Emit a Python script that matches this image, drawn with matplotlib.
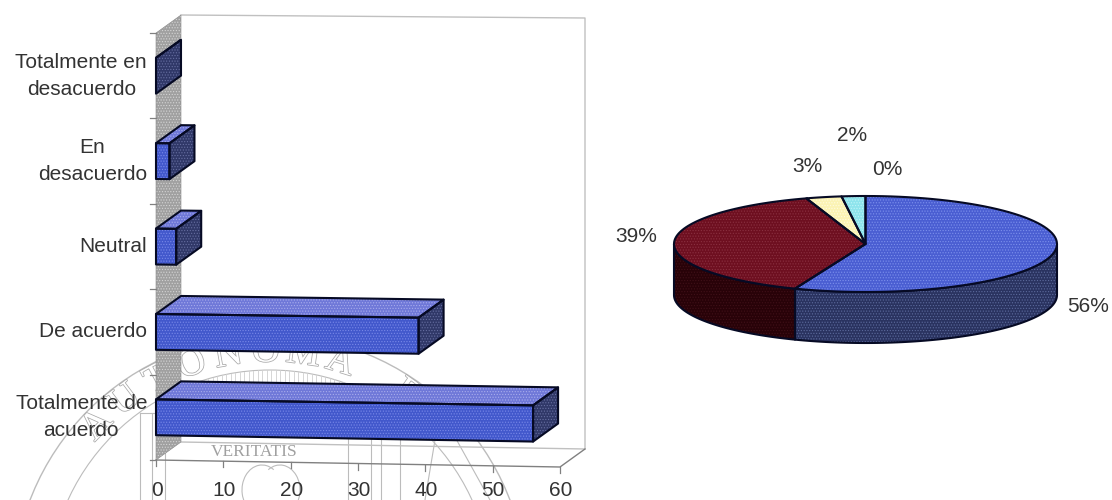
import numpy as np
import matplotlib
matplotlib.use('Agg')
import matplotlib.pyplot as plt
from matplotlib.patches import Polygon, Circle, Arc
import matplotlib.patheffects as pe

plt.rcParams['font.family'] = ['Liberation Sans', 'DejaVu Sans']
plt.rcParams['hatch.linewidth'] = 0.5

# Datos de la encuesta
categorias = ['Totalmente de\nacuerdo', 'De acuerdo', 'Neutral', 'En\ndesacuerdo', 'Totalmente en\ndesacuerdo']
valores = [56, 39, 3, 2, 0]
ticks_x = [0, 10, 20, 30, 40, 50, 60]
colores_pastel = ['#4a5ed2', '#6e0f20', '#fbf3b4', '#8ee4ec', '#3c4a9c']
colores_lado = ['#2a3360', '#280208', '#b8b080', '#60a0a8', '#2c3768']

TXT = '#333333'
W, H = 1112, 500


def caja(l, t, r, b):
    """Rectángulo de ejes a partir de píxeles de la figura."""
    return [l / W, 1 - b / H, (r - l) / W, (b - t) / H]


def cara(ax, pts, color, grano, z, lw=1.5, borde='#060a24'):
    # relleno punteado y contorno por separado para que el grano no tome el color del borde
    ax.add_patch(Polygon(pts, closed=True, facecolor=color, edgecolor=grano, hatch='......',
                         lw=0, zorder=z, clip_on=False))
    ax.add_patch(Polygon(pts, closed=True, fill=False, edgecolor=borde, lw=lw, zorder=z + 0.1,
                         clip_on=False, joinstyle='round'))


fig = plt.figure(figsize=(W / 100, H / 100), dpi=100, facecolor='white')

# Sello de la universidad al fondo
bg = fig.add_axes([0, 0, 1, 1], zorder=0)
bg.set_xlim(0, W)
bg.set_ylim(H, 0)
bg.axis('off')
cx, cy = 270, 592
sello = '#bcbcbc'
bg.add_patch(Circle((cx, cy), 257, fill=False, ec=sello, lw=1.0))
bg.add_patch(Circle((cx, cy), 222, fill=False, ec=sello, lw=0.8))
lema = 'UNIVERSIDAD AUTONOMA DE NUEVO LEON'
for i, letra in enumerate(lema):
    ang = (i - lema.index('AUTONOMA') - 7) * 9 + 17
    r = 240
    x = cx + r * np.sin(np.radians(ang))
    y = cy - r * np.cos(np.radians(ang))
    if y > 470:  # las letras de abajo quedan fuera de la hoja
        continue
    bg.text(x, y, letra, rotation=-ang, ha='center', va='center', family='Liberation Serif',
            fontsize=28, color='white', rotation_mode='anchor',
            path_effects=[pe.withStroke(linewidth=1.1, foreground='#a8a8a8')])
for x in np.arange(172, 372, 4.5):
    dy1 = np.sqrt(222 ** 2 - (x - cx) ** 2)
    dy2 = np.sqrt(208 ** 2 - (x - cx) ** 2)
    bg.plot([x, x], [cy - dy1, cy - dy2], color='#d0d0d0', lw=0.6)
for x in [140, 152, 165, 348, 371, 381, 400]:
    bg.plot([x, x], [413, H], color=sello, lw=0.8)
bg.plot([140, 165], [413, 413], color=sello, lw=0.8)
bg.plot([348, 400], [413, 413], color=sello, lw=0.8)
bg.text(254, 452, 'VERITATIS', ha='center', va='center', family='Liberation Serif',
        fontsize=12.5, color='#a0a0a0', stretch='condensed')
bg.add_patch(Arc((262, 490), 40, 50, theta1=120, theta2=300, ec=sello, lw=0.8))
bg.add_patch(Arc((280, 490), 40, 50, theta1=240, theta2=60, ec=sello, lw=0.8))
bg.plot([440, 490], [410, H], color=sello, lw=0.8)
bg.plot([440, 425], [410, H], color=sello, lw=0.8)

# Barras horizontales con perspectiva
ax = fig.add_axes(caja(156, 33, 560, 460), zorder=2)
ax.set_xlim(0, 60)
ax.set_ylim(0, 5)
ax.axis('off')
ux = 404 / 60
uy = 427 / 5


def p(v, y, d=0.0):
    # valor y categoría a coordenadas, d es la profundidad (0 frente, 1 fondo)
    caida = v * ux / 404 * (7 - 0.8 * y)
    return (v + d * 25 / ux, y + (d * 18 - caida) / uy)


# pared y piso
cara(ax, [p(0, 5), p(0, 5, 1), p(0, 0, 1), p(0, 0)], '#a0a0a0', '#d4d4d4', 1, lw=0.4, borde='#888888')
linea = '#c0c0c0'
ax.plot(*zip(p(0, 5, 1), p(60, 5, 1), p(60, 0, 1), p(0, 0, 1)), color=linea, lw=1.0, zorder=1, clip_on=False)
ax.plot(*zip(p(0, 0), p(60, 0), p(60, 0, 1)), color='#808080', lw=1.0, zorder=1.5, clip_on=False)

for t in ticks_x:
    x0, y0 = p(t, 0)
    ax.plot([x0, x0], [y0, y0 - 6 / uy], color='#808080', lw=0.9, clip_on=False)
    ax.text(t + 0.1, -30 / uy, str(t), ha='center', va='center', fontsize=15, color=TXT)
for i in range(6):
    ax.plot([-6 / ux, 0], [i, i], color='#808080', lw=0.9, clip_on=False)

alto = 0.42
for i, (cat, val) in enumerate(zip(categorias, valores)):
    y1, y2 = i + 0.5 - alto / 2, i + 0.5 + alto / 2
    z = 3 + (5 - i)
    cara(ax, [p(0, y2), p(0, y2, 1), p(val, y2, 1), p(val, y2)], '#6f78d8', '#a8acec', z)
    cara(ax, [p(val, y1), p(val, y2), p(val, y2, 1), p(val, y1, 1)], '#303868', '#666ea0', z)
    if val > 0:
        cara(ax, [p(0, y1), p(0, y2), p(val, y2), p(val, y1)], '#4258cc', '#7888e8', z)
    ax.text(-9 / ux, i + 0.5, cat, ha='right', va='center', multialignment='center',
            fontsize=15, color=TXT, linespacing=1.55, clip_on=False)

# Pastel con perspectiva
ax2 = fig.add_axes(caja(674, 196, 1057, 292), zorder=2)
ax2.set_xlim(-1, 1)
ax2.set_ylim(-1, 1)
ax2.axis('off')
grosor = 51 / 48
granos_top = ['#7c90ec', '#8a3040', '#fffbe0', '#c0f4f8', '#7488e8']
granos_lado = ['#5c6a9c', '#401018', '#d0c8a0', '#90c8d0', '#5a6898']
pos_etiquetas = [(1088, 306), (636, 237), (807, 167), (887, 170), (852, 136)]
orden_etiquetas = [0, 1, 2, 4, 3]

total = sum(valores)
inicio = 90.0
porciones = []
for val in valores:
    fin = inicio - val / total * 360
    porciones.append((inicio, fin))
    inicio = fin

for (a, b), c, g in zip(porciones, colores_lado, granos_lado):
    # solo la parte del borde que mira al frente (entre -180 y 0 grados)
    a2, b2 = min(a, 0), max(b, -180)
    if a2 <= b2:
        continue
    t = np.radians(np.linspace(a2, b2, 80))
    arriba = np.c_[np.cos(t), np.sin(t)]
    abajo = arriba[::-1] - [0, grosor]
    cara(ax2, np.vstack([arriba, abajo]), c, g, 3)

for (a, b), c, g in zip(porciones, colores_pastel, granos_top):
    if a == b:
        continue
    t = np.radians(np.linspace(a, b, 80))
    pts = np.vstack([[0, 0], np.c_[np.cos(t), np.sin(t)]])
    cara(ax2, pts, c, g, 4)

for (px, py), k in zip(pos_etiquetas, orden_etiquetas):
    ax2.text((px - 865.5) / 191.5, (244 - py) / 48, f'{valores[k]}%', ha='center', va='center',
             fontsize=15, color=TXT, clip_on=False)

fig.savefig('out.png', dpi=100)
